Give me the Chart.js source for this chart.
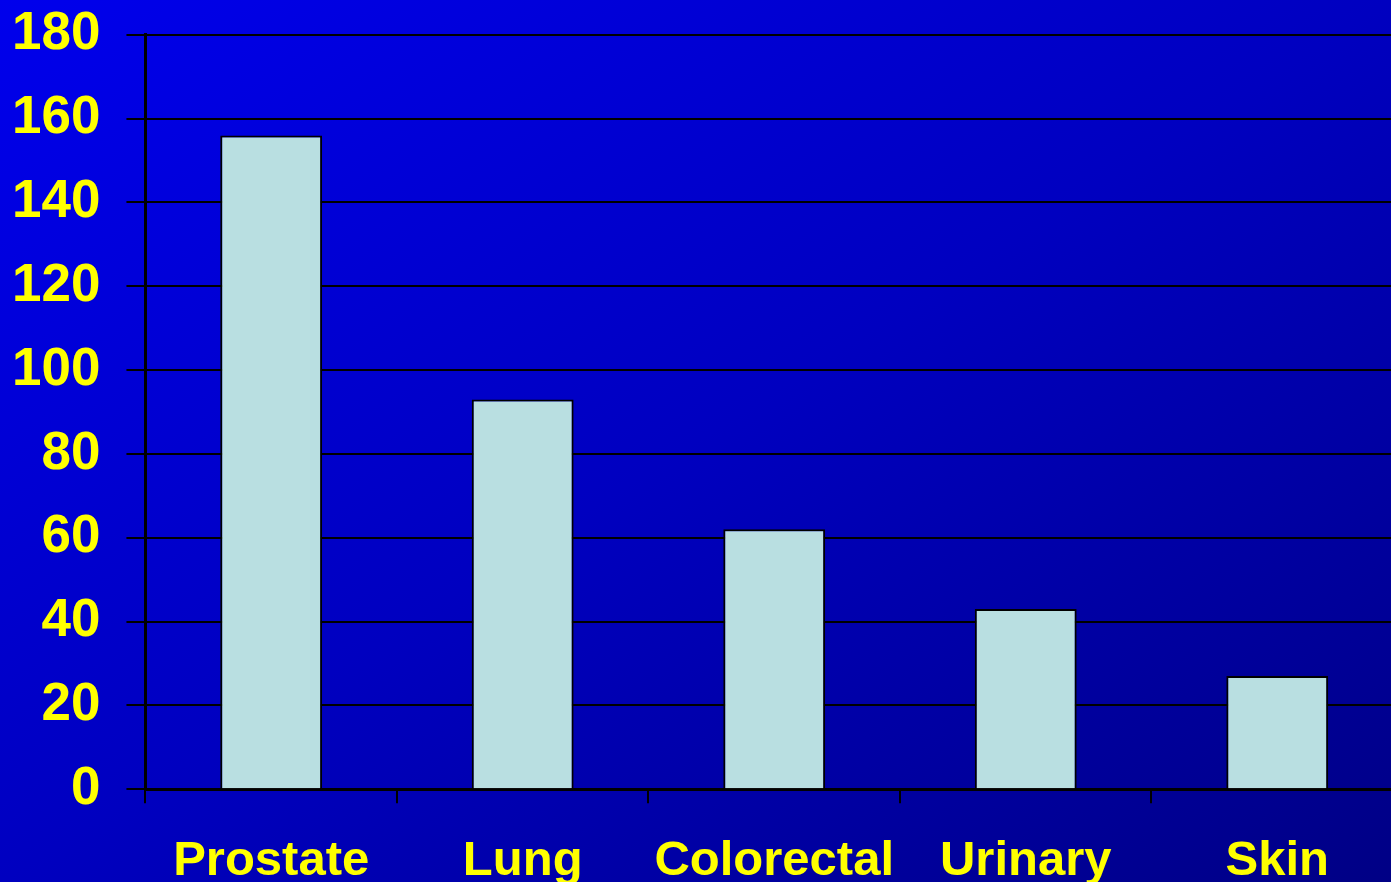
<!DOCTYPE html>
<html>
<head>
<meta charset="utf-8">
<script src="https://cdn.jsdelivr.net/npm/chart.js@4/dist/chart.umd.min.js"></script>
<style>
  html, body { margin:0; padding:0; width:1391px; height:882px; overflow:hidden; }
  body { background: linear-gradient(to bottom right, #0000EC 0%, #0000C0 50%, #000085 100%); position:relative; }
  #wrap { position:absolute; left:-14px; top:-23px; width:1418px; height:943px; }
</style>
</head>
<body>
<div id="wrap"><canvas id="c"></canvas></div>
<script>
const categories = ["Prostate", "Lung", "Colorectal", "Urinary", "Skin"];
const values = [156, 93, 62, 43, 27];
const yTicks = [0, 20, 40, 60, 80, 100, 120, 140, 160, 180];

const yellow = "#FFFF00";
const font = "'Liberation Sans', Arial, sans-serif";

new Chart(document.getElementById("c"), {
  type: "bar",
  data: {
    labels: categories,
    datasets: [{
      data: values,
      backgroundColor: "#B9DFE1",
      borderColor: "#000000",
      borderWidth: 2,
      barPercentage: 0.81,
      categoryPercentage: 0.5
    }]
  },
  options: {
    responsive: true,
    maintainAspectRatio: false,
    animation: false,
    layout: { padding: { left: 0, top: 0, right: 1, bottom: 0 } },
    plugins: { legend: { display: false }, tooltip: { enabled: false } },
    scales: {
      x: {
        offset: true,
        grid: { display: true, drawOnChartArea: false, drawTicks: true, tickLength: 14, color: "#000000", lineWidth: 2, offset: true },
        border: { display: true, color: "#000000", width: 3 },
        ticks: { color: yellow, font: { family: font, size: 49, weight: "bold" }, padding: 29, maxRotation: 0 }
      },
      y: {
        min: 0, max: 180,
        afterBuildTicks: (axis) => { axis.ticks = yTicks.map(v => ({ value: v })); },
        grid: { color: "#000000", lineWidth: 2, tickLength: 19, drawTicks: true },
        border: { display: true, color: "#000000", width: 3 },
        ticks: { color: yellow, font: { family: font, size: 53, weight: "bold" }, padding: 26 }
      }
    }
  }
});
</script>
</body>
</html>
